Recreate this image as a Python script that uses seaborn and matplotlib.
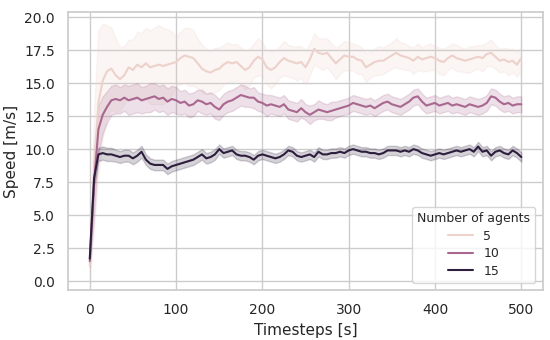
import numpy as np
import pandas as pd
import matplotlib
matplotlib.use("Agg")
import matplotlib.pyplot as plt
import seaborn as sns

timesteps = list(range(0, 501, 5))
agent_counts = [5, 10, 15]

speed_5 = [1.2, 8.5, 13.5, 15.2, 15.9, 16.1, 15.6, 15.3, 15.6, 16.2,
           16.0, 16.4, 16.2, 16.5, 16.2, 16.3, 16.4, 16.3, 16.4, 16.5,
           16.6, 16.9, 17.1, 17.0, 16.9, 16.5, 16.1, 15.9, 15.8, 16.0,
           16.1, 16.4, 16.6, 16.5, 16.6, 16.3, 16.0, 16.2, 16.7, 17.0,
           16.8, 16.2, 16.0, 16.2, 16.6, 16.9, 16.7, 16.6, 16.5, 16.6,
           16.2, 16.8, 17.6, 17.3, 17.2, 17.3, 16.9, 16.5, 16.8, 17.1,
           17.0, 17.0, 16.8, 16.7, 16.2, 16.4, 16.6, 16.7, 16.7, 16.9,
           17.1, 17.3, 17.1, 17.0, 16.9, 16.7, 17.0, 16.8, 16.9, 17.0,
           16.9, 16.7, 16.6, 16.9, 17.1, 16.9, 16.8, 16.7, 16.8, 16.9,
           17.0, 16.9, 17.2, 17.3, 17.0, 16.7, 16.8, 16.6, 16.7, 16.4,
           16.9]
err_5 = [0.9, 4.5, 5.5, 4.3, 3.5, 3.1, 2.8, 2.4, 2.2, 2.1,
         2.3, 2.5, 2.6, 2.7, 2.8, 2.9, 3.0, 2.9, 2.7, 2.4,
         1.9, 2.0, 2.1, 2.2, 2.1, 1.9, 1.8, 1.7, 1.6, 1.7,
         1.6, 1.5, 1.5, 1.4, 1.4, 1.4, 1.5, 1.4, 1.3, 1.4,
         1.3, 1.3, 1.4, 1.3, 1.2, 1.3, 1.2, 1.2, 1.3, 1.2,
         1.3, 1.2, 1.2, 1.1, 1.2, 1.1, 1.1, 1.2, 1.1, 1.1,
         1.1, 1.0, 1.1, 1.0, 1.1, 1.0, 1.0, 1.1, 1.0, 1.0,
         1.0, 1.1, 1.0, 1.0, 0.9, 1.0, 1.0, 0.9, 1.0, 1.0,
         0.9, 1.0, 1.0, 0.9, 0.9, 1.0, 0.9, 0.9, 1.0, 0.9,
         0.9, 1.0, 0.9, 1.0, 0.9, 0.9, 0.9, 1.0, 0.9, 0.9,
         0.9]

speed_10 = [1.5, 7.5, 11.5, 12.6, 13.2, 13.7, 13.8, 13.7, 13.9, 13.7,
            13.8, 13.9, 13.7, 13.8, 13.9, 14.0, 13.8, 13.9, 13.6, 13.8,
            13.7, 13.5, 13.6, 13.3, 13.4, 13.7, 13.6, 13.4, 13.5, 13.2,
            13.0, 13.4, 13.6, 13.7, 13.9, 14.1, 14.0, 13.9, 13.9, 13.6,
            13.5, 13.3, 13.4, 13.3, 13.2, 13.4, 13.0, 12.9, 12.8, 13.1,
            12.8, 12.6, 12.8, 13.0, 12.9, 12.8, 12.9, 13.0, 13.1, 13.2,
            13.3, 13.5, 13.4, 13.3, 13.2, 13.3, 13.1, 13.3, 13.5, 13.6,
            13.4, 13.3, 13.2, 13.4, 13.6, 13.9, 14.0, 13.6, 13.3, 13.4,
            13.5, 13.3, 13.4, 13.5, 13.3, 13.4, 13.3, 13.2, 13.4, 13.3,
            13.2, 13.3, 13.5, 14.0, 13.9, 13.6, 13.4, 13.5, 13.3, 13.4,
            13.4]
err_10 = [0.4, 2.5, 1.8, 1.4, 1.2, 1.1, 1.1, 1.0, 1.0, 1.1,
          1.1, 1.1, 1.0, 1.0, 1.1, 1.0, 1.0, 1.0, 1.0, 1.0,
          1.0, 0.9, 0.9, 0.9, 0.9, 0.8, 0.9, 0.8, 0.8, 0.9,
          0.8, 0.8, 0.8, 0.8, 0.8, 0.8, 0.8, 0.7, 0.8, 0.7,
          0.7, 0.8, 0.7, 0.7, 0.7, 0.7, 0.7, 0.7, 0.7, 0.7,
          0.6, 0.7, 0.6, 0.7, 0.6, 0.6, 0.7, 0.6, 0.6, 0.6,
          0.6, 0.6, 0.6, 0.6, 0.6, 0.6, 0.6, 0.6, 0.6, 0.6,
          0.6, 0.6, 0.6, 0.6, 0.6, 0.6, 0.6, 0.6, 0.6, 0.6,
          0.6, 0.6, 0.6, 0.6, 0.6, 0.6, 0.6, 0.6, 0.6, 0.6,
          0.6, 0.6, 0.6, 0.6, 0.6, 0.6, 0.6, 0.6, 0.6, 0.6,
          0.6]

speed_15 = [1.7, 7.8, 9.6, 9.7, 9.6, 9.6, 9.5, 9.4, 9.5, 9.5,
            9.3, 9.5, 9.8, 9.2, 8.9, 8.8, 8.8, 8.8, 8.5, 8.7,
            8.8, 8.9, 9.0, 9.1, 9.2, 9.4, 9.6, 9.3, 9.4, 9.6,
            10.0, 9.7, 9.8, 9.9, 9.6, 9.5, 9.5, 9.4, 9.2, 9.5,
            9.6, 9.5, 9.4, 9.3, 9.4, 9.6, 9.9, 9.8, 9.5, 9.4,
            9.5, 9.6, 9.4, 9.8, 9.6, 9.6, 9.7, 9.7, 9.8, 9.7,
            9.9, 10.0, 9.9, 9.8, 9.8, 9.7, 9.7, 9.6, 9.7, 9.9,
            9.9, 9.9, 9.8, 9.9, 9.8, 10.0, 9.9, 9.7, 9.6, 9.5,
            9.6, 9.7, 9.6, 9.7, 9.8, 9.9, 9.8, 9.9, 10.0, 9.8,
            10.2, 9.8, 9.9, 9.5, 9.8, 9.9, 9.7, 9.6, 9.9, 9.7,
            9.4]
err_15 = [0.3, 0.6, 0.5, 0.5, 0.5, 0.5, 0.45, 0.45, 0.45, 0.45,
          0.45, 0.45, 0.45, 0.4, 0.4, 0.4, 0.4, 0.4, 0.4, 0.4,
          0.4, 0.4, 0.4, 0.4, 0.4, 0.4, 0.4, 0.4, 0.4, 0.4,
          0.35, 0.35, 0.35, 0.35, 0.35, 0.35, 0.35, 0.35, 0.35, 0.35,
          0.35, 0.35, 0.35, 0.35, 0.35, 0.35, 0.35, 0.35, 0.35, 0.35,
          0.35, 0.35, 0.35, 0.35, 0.35, 0.35, 0.35, 0.35, 0.35, 0.35,
          0.35, 0.35, 0.35, 0.35, 0.35, 0.35, 0.35, 0.35, 0.35, 0.35,
          0.35, 0.35, 0.35, 0.35, 0.35, 0.35, 0.35, 0.35, 0.35, 0.35,
          0.35, 0.35, 0.35, 0.35, 0.35, 0.35, 0.35, 0.35, 0.35, 0.35,
          0.35, 0.35, 0.35, 0.35, 0.35, 0.35, 0.35, 0.35, 0.35, 0.35,
          0.35]

series = {5: (speed_5, err_5), 10: (speed_10, err_10), 15: (speed_15, err_15)}
rows = []
for n in agent_counts:
    mean, err = series[n]
    for t, m, e in zip(timesteps, mean, err):
        for v in (m - e, m, m + e):
            rows.append({"Timesteps [s]": t, "Number of agents": n, "Speed [m/s]": v})
df = pd.DataFrame(rows)

sns.set_theme(style="whitegrid")
plt.rcParams["font.family"] = ["DejaVu Sans"]

fig, ax = plt.subplots(figsize=(5.5, 3.4), dpi=100)
sns.lineplot(data=df, x="Timesteps [s]", y="Speed [m/s]", hue="Number of agents",
             estimator="median", errorbar=("pi", 100), legend="full", ax=ax)
ax.set_ylim(-0.68, 20.4)
ax.set_yticks([0, 2.5, 5, 7.5, 10, 12.5, 15, 17.5, 20])
ax.set_yticklabels(["0.0", "2.5", "5.0", "7.5", "10.0", "12.5", "15.0", "17.5", "20.0"])
ax.tick_params(labelsize=10)
ax.set_xlabel("Timesteps [s]", fontsize=11)
ax.set_ylabel("Speed [m/s]", fontsize=11)
leg = ax.legend(title="Number of agents", loc="lower right", fontsize=9, title_fontsize=9,
                borderaxespad=0.6, labelspacing=0.35)
fig.subplots_adjust(left=0.124, right=0.987, top=0.965, bottom=0.147)
fig.savefig("out.png", dpi=100)
